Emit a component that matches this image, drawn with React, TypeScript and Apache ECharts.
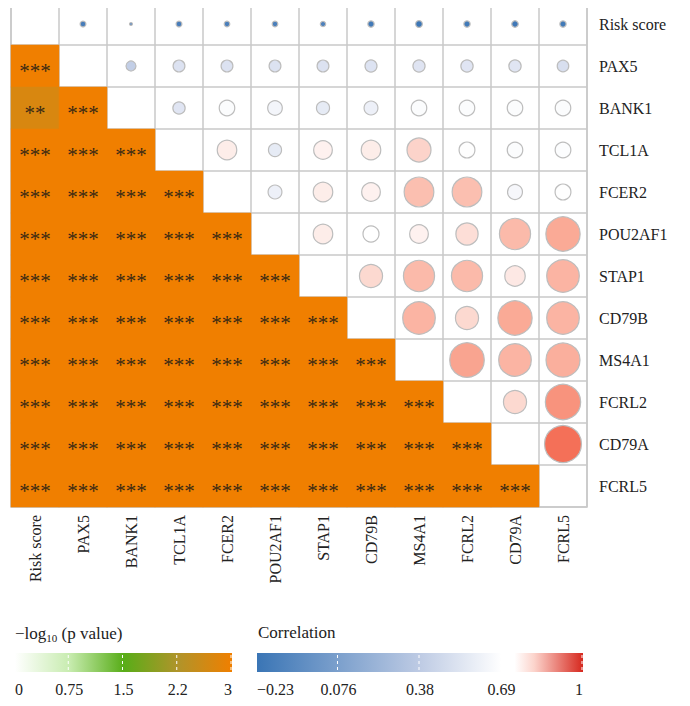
import { useEffect, useRef } from 'react'
import * as echarts from 'echarts'

const genes = ['Risk score', 'PAX5', 'BANK1', 'TCL1A', 'FCER2', 'POU2AF1', 'STAP1', 'CD79B', 'MS4A1', 'FCRL2', 'CD79A', 'FCRL5']

// upper triangle correlations, row i -> cols i+1..11
const corrRows: number[][] = [
  [-0.18, -0.1, -0.18, -0.17, -0.17, -0.16, -0.2, -0.22, -0.2, -0.21, -0.2],
  [0.3, 0.42, 0.42, 0.42, 0.42, 0.43, 0.44, 0.45, 0.45, 0.4, 0.42],
  [0.45, 0.66, 0.6, 0.5, 0.55, 0.66, 0.66, 0.66, 0.66],
  [0.73, 0.5, 0.72, 0.73, 0.78, 0.68, 0.66, 0.67],
  [0.55, 0.73, 0.72, 0.82, 0.82, 0.62, 0.68],
  [0.73, 0.69, 0.72, 0.76, 0.83, 0.86],
  [0.77, 0.83, 0.83, 0.74, 0.84],
  [0.84, 0.77, 0.86, 0.84],
  [0.87, 0.84, 0.85],
  [0.77, 0.9],
  [0.96],
]

// lower triangle significance, row i -> cols 0..i-1
const stars: string[][] = [
  [],
  ['***'],
  ['**', '***'],
  ['***', '***', '***'],
  ['***', '***', '***', '***'],
  ['***', '***', '***', '***', '***'],
  ['***', '***', '***', '***', '***', '***'],
  ['***', '***', '***', '***', '***', '***', '***'],
  ['***', '***', '***', '***', '***', '***', '***', '***'],
  ['***', '***', '***', '***', '***', '***', '***', '***', '***'],
  ['***', '***', '***', '***', '***', '***', '***', '***', '***', '***'],
  ['***', '***', '***', '***', '***', '***', '***', '***', '***', '***', '***'],
]
const starLogP: Record<string, number> = { '***': 3, '**': 2.72 }

const pTicks = ['0', '0.75', '1.5', '2.2', '3']
const corrTicks = ['\u22120.23', '0.076', '0.38', '0.69', '1']

const FONT = '"Liberation Serif", serif'

function lerpColor(stops: [number, number[]][], v: number) {
  if (v <= stops[0][0]) return `rgb(${stops[0][1].join(',')})`
  for (let i = 1; i < stops.length; i++) {
    const [p1, c1] = stops[i]
    const [p0, c0] = stops[i - 1]
    if (v <= p1) {
      const t = (v - p0) / (p1 - p0)
      return `rgb(${c0.map((c, k) => Math.round(c + (c1[k] - c) * t)).join(',')})`
    }
  }
  return `rgb(${stops[stops.length - 1][1].join(',')})`
}

const corrStops: [number, number[]][] = [
  [-0.23, [58, 117, 181]],
  [0.1, [150, 172, 212]],
  [0.42, [220, 226, 241]],
  [0.69, [255, 255, 255]],
  [0.74, [253, 232, 228]],
  [0.86, [250, 170, 150]],
  [0.96, [244, 112, 88]],
  [1, [214, 40, 30]],
]

function corrSize(v: number) {
  const pts: [number, number][] = [[-0.1, 3], [0.3, 10], [0.69, 16], [0.78, 24], [0.85, 34], [1, 38]]
  if (v < -0.1) return 4 + ((-0.1 - v) / 0.13) * 3
  for (let i = 1; i < pts.length; i++) {
    if (v <= pts[i][0]) {
      const t = (v - pts[i - 1][0]) / (pts[i][0] - pts[i - 1][0])
      return pts[i - 1][1] + (pts[i][1] - pts[i - 1][1]) * t
    }
  }
  return 38
}

export default function App() {
  const ref = useRef<HTMLDivElement>(null)

  useEffect(() => {
    if (!ref.current) return
    const chart = echarts.init(ref.current, null, { renderer: 'svg' })

    const heatData: any[] = []
    stars.forEach((row, i) =>
      row.forEach((s, j) => heatData.push({ value: [j, i, starLogP[s]], label: { formatter: s } }))
    )
    const circData: any[] = []
    corrRows.forEach((row, i) =>
      row.forEach((v, k) => {
        const j = i + 1 + k
        circData.push({
          value: [j, i, v],
          symbolSize: corrSize(v),
          itemStyle: { color: lerpColor(corrStops, v) },
        })
      })
    )

    const gx1 = 15, gw1 = 217, gx2 = 257, gw2 = 326, gy = 653, gh = 19
    const tickLines = (x: number, w: number) =>
      [0.25, 0.5, 0.75, 1].map((f) => ({
        type: 'line',
        shape: { x1: x + w * f - 1, y1: gy + 2, x2: x + w * f - 1, y2: gy + gh - 2 },
        style: { stroke: '#fff', lineWidth: 1, lineDash: [3, 3] },
      }))
    const tickTexts = (x: number, w: number, labels: string[]) =>
      labels.map((t, i) => ({
        type: 'text',
        x: x + (w * i) / 4,
        y: 681,
        style: {
          text: t, font: `16px ${FONT}`, fill: '#222',
          textAlign: i === 0 ? 'left' : i === 4 ? 'right' : 'center',
        },
      }))

    chart.setOption({
      animation: false,
      grid: { left: 11, top: 3, width: 576, height: 504, show: true, borderColor: '#c8c8c8', borderWidth: 1.5 },
      xAxis: {
        type: 'category', data: genes, position: 'bottom',
        axisLine: { show: false }, axisTick: { show: false },
        splitLine: { show: true, lineStyle: { color: '#c8c8c8', width: 1.5 } },
        axisLabel: { rotate: 90, fontFamily: FONT, fontSize: 16, color: '#222', margin: 8 },
      },
      yAxis: {
        type: 'category', data: genes, inverse: true, position: 'right',
        axisLine: { show: false }, axisTick: { show: false },
        splitLine: { show: true, lineStyle: { color: '#c8c8c8', width: 1.5 } },
        axisLabel: { fontFamily: FONT, fontSize: 16, color: '#222', margin: 12 },
      },
      visualMap: {
        show: false, seriesIndex: 0, dimension: 2, min: 0, max: 3,
        inRange: { color: ['#ffffff', '#c8ecb0', '#5aaf1a', '#b0942a', '#f07f00'] },
      },
      series: [
        {
          type: 'heatmap', data: heatData,
          label: { show: true, fontFamily: FONT, fontSize: 21, color: '#3a2a14', offset: [0, 5] },
          emphasis: { disabled: true },
        },
        {
          type: 'scatter', data: circData, symbol: 'circle',
          itemStyle: { borderColor: '#bdbdbd', borderWidth: 1.2, opacity: 1 },
        },
      ],
      graphic: [
        {
          type: 'text', x: 15, y: 624,
          style: {
            text: '{a|\u2212log}{b|10}{a| (p value)}',
            rich: {
              a: { font: `17px ${FONT}`, fill: '#222' },
              b: { font: `11px ${FONT}`, fill: '#222', verticalAlign: 'bottom', padding: [8, 0, 0, 0] },
            },
          },
        },
        { type: 'text', x: 258, y: 624, style: { text: 'Correlation', font: `17px ${FONT}`, fill: '#222' } },
        {
          type: 'rect', shape: { x: gx1, y: gy, width: gw1, height: gh },
          style: {
            fill: new echarts.graphic.LinearGradient(0, 0, 1, 0, [
              { offset: 0, color: '#ffffff' },
              { offset: 0.25, color: '#c8ecb0' },
              { offset: 0.5, color: '#58ad18' },
              { offset: 0.75, color: '#b0942a' },
              { offset: 1, color: '#f07f00' },
            ]),
          },
        },
        {
          type: 'rect', shape: { x: gx2, y: gy, width: gw2, height: gh },
          style: {
            fill: new echarts.graphic.LinearGradient(0, 0, 1, 0, [
              { offset: 0, color: '#3a75b5' },
              { offset: 0.5, color: '#becbe4' },
              { offset: 0.75, color: '#ffffff' },
              { offset: 0.79, color: '#ffffff' },
              { offset: 0.85, color: '#fcd4cc' },
              { offset: 1, color: '#d6281e' },
            ]),
          },
        },
        ...tickLines(gx1, gw1),
        ...tickLines(gx2, gw2),
        ...tickTexts(gx1, gw1, pTicks),
        ...tickTexts(gx2, gw2, corrTicks),
      ],
    } as any)

    return () => chart.dispose()
  }, [])

  return <div ref={ref} style={{ width: 690, height: 706, margin: -8 }} />
}
